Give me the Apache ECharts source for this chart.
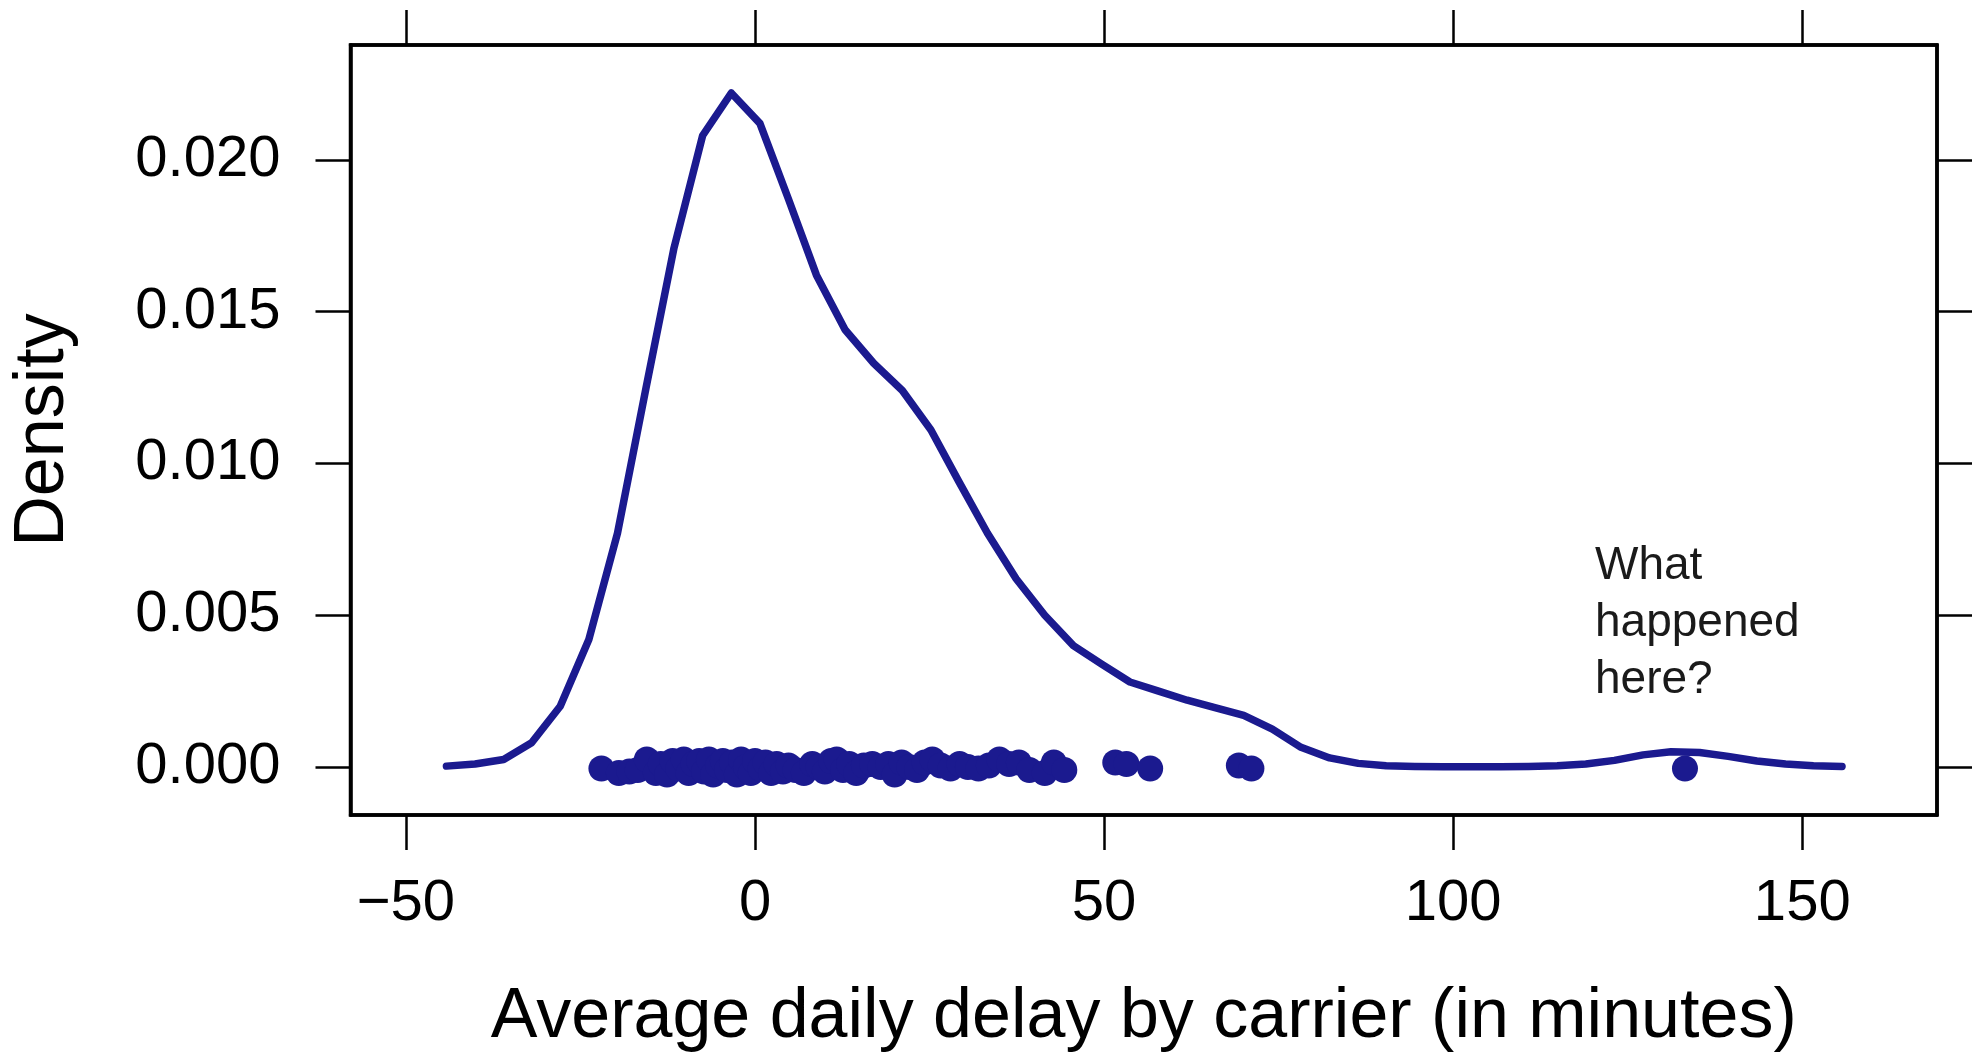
<!DOCTYPE html>
<html>
<head>
<meta charset="utf-8">
<script src="https://cdn.jsdelivr.net/npm/echarts@6/dist/echarts.min.js"></script>
<style>
html,body{margin:0;padding:0;background:#fff;}
#chart{width:1978px;height:1060px;}
</style>
</head>
<body>
<div id="chart"></div>
<script>
// Density curve (x in minutes, y density)
var densityX = [-44.2,-40.1,-36.0,-32.0,-27.9,-23.8,-19.7,-15.6,-11.6,-7.5,
  -3.4,0.7,4.8,8.8,12.9,17.0,21.1,25.2,29.2,33.3,
  37.4,41.5,45.6,49.6,53.7,57.8,61.9,66.0,70.0,74.1,
  78.2,82.3,86.4,90.4,94.5,98.6,102.7,106.8,110.8,114.9,
  119.0,123.1,127.2,131.2,135.3,139.4,143.5,147.6,151.6,155.7];
var densityY = [0.00003,0.0001,0.00025,0.0008,0.0020,0.0042,0.0077,0.0125,0.0171,0.0208,
  0.0222,0.0212,0.0187,0.0162,0.0144,0.0133,0.0124,0.0111,0.0094,0.0077,
  0.0062,0.0050,0.0040,0.0034,0.0028,0.0025,0.0022,0.00195,0.0017,0.00125,
  0.00065,0.0003,0.00012,0.00004,0.00002,0.00001,0.00001,0.00001,0.00002,0.00004,
  0.0001,0.00022,0.0004,0.0005,0.00048,0.00035,0.0002,0.0001,0.00004,0.00002];
// Rug points (jittered)
var pointsX = [-22.0,-19.5,-18.0,-16.8,-15.5,-14.2,-13.5,-12.6,-11.8,-11.0,
  -10.2,-9.5,-8.8,-8.0,-7.3,-6.6,-6.0,-5.3,-4.6,-4.0,
  -3.3,-2.6,-2.0,-1.3,-0.6,0.0,0.8,1.5,2.3,3.1,
  4.0,4.8,5.8,7.0,8.2,9.1,10.0,10.9,11.7,12.6,
  13.5,14.5,15.6,16.8,18.0,19.1,20.0,21.0,22.1,23.2,
  24.3,25.4,26.6,28.0,29.3,30.5,32.0,33.5,35.0,36.4,
  37.8,39.3,41.5,42.8,44.3,51.6,53.2,56.6,69.3,71.1,133.2];
var pointsY = [-0.00005,-0.0002,-0.00015,-0.0001,0.00025,-0.0002,0.0001,-0.00025,0.0002,-0.00005,
  0.00025,-0.0002,0.0001,0.0002,-0.00015,0.00025,-0.00025,0.00005,0.0002,-0.0001,
  0.00015,-0.00025,0.00025,0.0,-0.0002,0.0002,-0.00005,0.00015,-0.0002,0.0001,
  -0.00015,0.00005,-0.0001,-0.0002,0.0001,0.0,-0.00015,0.0002,0.00025,-0.0001,
  0.0001,-0.0002,0.00005,0.0001,0.0,0.0001,-0.00025,0.00015,0.0,-0.0001,
  0.00015,0.00025,0.00005,-0.00005,0.0001,0.0,-0.00005,0.00005,0.00025,0.0001,
  0.00015,-0.0001,-0.0002,0.00015,-0.0001,0.00015,0.0001,-0.00005,0.00005,-0.00005,-0.00005];
var xTicks = [-50, 0, 50, 100, 150];
var yTicks = [0, 0.005, 0.010, 0.015, 0.020];
var xTitle = 'Average daily delay by carrier (in minutes)';
var yTitle = 'Density';
var noteLines = ['What', 'happened', 'here?'];

var lineData = densityX.map(function (x, i) { return [x, densityY[i]]; });
var pointData = pointsX.map(function (x, i) { return [x, pointsY[i]]; });
var COLOR = '#1b1a8f';
var FONT = 'Liberation Sans, Arial, Helvetica, sans-serif';

var chart = echarts.init(document.getElementById('chart'));
var tickStyle = { color: '#000', width: 2.5 };
var axisLineStyle = { show: true, onZero: false, lineStyle: { color: '#000', width: 3.5 } };
function xlab(v) { return String(v).replace('-', '\u2212'); }
chart.setOption({
  animation: false,
  grid: { left: 350.5, right: 41, top: 45, bottom: 245, show: true, borderColor: '#000', borderWidth: 3.5, containLabel: false },
  xAxis: [{
    type: 'value', min: -57.94, max: 169.3, position: 'bottom',
    axisLine: axisLineStyle,
    axisTick: { show: true, inside: false, length: 35, lineStyle: tickStyle, customValues: xTicks },
    axisLabel: { show: true, customValues: xTicks, formatter: xlab, margin: 60, fontSize: 58, fontFamily: FONT, color: '#000' },
    splitLine: { show: false },
    name: xTitle, nameLocation: 'middle', nameGap: 168,
    nameTextStyle: { fontSize: 70, fontFamily: FONT, color: '#000' }
  }, {
    type: 'value', min: -57.94, max: 169.3, position: 'top',
    axisLine: axisLineStyle,
    axisTick: { show: true, inside: false, length: 35, lineStyle: tickStyle, customValues: xTicks },
    axisLabel: { show: false }, splitLine: { show: false }
  }],
  yAxis: [{
    type: 'value', min: -0.00158, max: 0.02378, position: 'left',
    axisLine: axisLineStyle,
    axisTick: { show: true, inside: false, length: 35, lineStyle: tickStyle, customValues: yTicks },
    axisLabel: { show: true, customValues: yTicks, formatter: function (v) { return v.toFixed(3); }, margin: 70, fontSize: 58, fontFamily: FONT, color: '#000' },
    splitLine: { show: false },
    name: yTitle, nameLocation: 'middle', nameGap: 272, nameRotate: 90,
    nameTextStyle: { fontSize: 70, fontFamily: FONT, color: '#000' }
  }, {
    type: 'value', min: -0.00158, max: 0.02378, position: 'right',
    axisLine: axisLineStyle,
    axisTick: { show: true, inside: false, length: 35, lineStyle: tickStyle, customValues: yTicks },
    axisLabel: { show: false }, splitLine: { show: false }
  }],
  series: [{
    type: 'line', data: lineData, showSymbol: false, symbol: 'none', smooth: false,
    lineStyle: { color: COLOR, width: 7.5, join: 'round', cap: 'round' }, z: 2
  }, {
    type: 'scatter', data: pointData, symbol: 'circle', symbolSize: 26,
    itemStyle: { color: COLOR, opacity: 1 }, z: 3
  }],
  graphic: [{
    type: 'text', left: 1595, top: 538,
    style: { text: noteLines.join('\n'), font: '46px ' + FONT, fill: '#1a1a1a', lineHeight: 57 }
  }]
});
</script>
</body>
</html>
